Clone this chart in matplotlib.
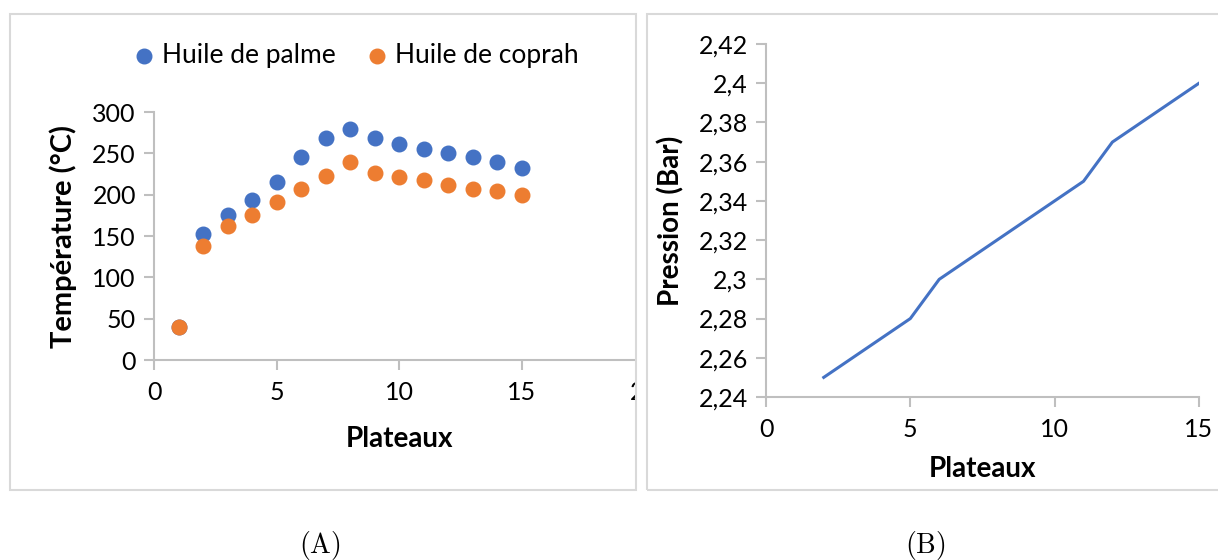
import numpy as np
import matplotlib.pyplot as plt
from matplotlib.patches import Rectangle
from matplotlib.ticker import FuncFormatter

plt.rcParams['font.family'] = ['Lato', 'DejaVu Sans']
plt.rcParams['mathtext.fontset'] = 'cm'

# data (A)
plateaux_a = [1, 2, 3, 4, 5, 6, 7, 8, 9, 10, 11, 12, 13, 14, 15]
palme = [40, 152, 176, 193, 215, 246, 269, 280, 268, 261, 255, 250, 246, 240, 232]
coprah = [40, 138, 162, 176, 191, 207, 222, 240, 226, 221, 218, 212, 207, 204, 199]

# data (B)
plateaux_b = [2, 3, 4, 5, 6, 7, 8, 9, 10, 11, 12, 13, 14, 15]
pression = [2.25, 2.26, 2.27, 2.28, 2.30, 2.31, 2.32, 2.33, 2.34, 2.35, 2.37, 2.38, 2.39, 2.40]

blue = "#4472C4"
orange = "#ED7D31"
gray = "#BFBFBF"
W, H = 1218, 560

fig = plt.figure(figsize=(12.18, 5.6), dpi=100)

def px(x0, y0, x1, y1):
    return [x0 / W, 1 - y1 / H, (x1 - x0) / W, (y1 - y0) / H]

def style(ax):
    for s in ["top", "right"]:
        ax.spines[s].set_visible(False)
    for s in ["left", "bottom"]:
        ax.spines[s].set_color(gray)
        ax.spines[s].set_linewidth(1.5)
    ax.tick_params(colors=gray, labelcolor="black", labelsize=18, length=7, width=1.5)
    ax.tick_params(axis="y", pad=6)
    ax.tick_params(axis="x", pad=8)

# panel A
ax1 = fig.add_axes(px(154, 112, 644, 360))
ax1.scatter(plateaux_a, palme, s=110, color=blue, label="Huile de palme", zorder=3)
ax1.scatter(plateaux_a, coprah, s=110, color=orange, label="Huile de coprah", zorder=3)
ax1.set_xlim(0, 20)
ax1.set_ylim(0, 300)
ax1.set_xticks([0, 5, 10, 15, 20])
ax1.set_yticks(range(0, 301, 50))
style(ax1)
ax1.set_xlabel("Plateaux", fontsize=20, fontweight="bold", labelpad=16)
ax1.set_ylabel("Température (°C)", fontsize=21, fontweight="bold", labelpad=11)
fig.legend(loc="center", bbox_to_anchor=(348 / W, 1 - 55 / H), ncol=2, frameon=False,
           fontsize=19, handletextpad=-0.3, columnspacing=0.55, markerscale=1.0)

# panel B
ax2 = fig.add_axes(px(766, 44, 1199, 397))
ax2.set_zorder(10)
ax2.plot(plateaux_b, pression, color=blue, linewidth=2.2)
ax2.set_xlim(0, 15)
ax2.set_ylim(2.24, 2.42)
ax2.set_xticks([0, 5, 10, 15])
ax2.set_yticks(np.arange(2.24, 2.4201, 0.02))
ax2.yaxis.set_major_formatter(FuncFormatter(lambda v, p: f"{v:g}".replace(".", ",")))
style(ax2)
ax2.set_xlabel("Plateaux", fontsize=20, fontweight="bold", labelpad=11)
ax2.set_ylabel("Pression (Bar)", fontsize=20, fontweight="bold", labelpad=10)

# frames round the panels (panel A is cut at its right edge)
fig.patches.append(Rectangle((637 / W, 0), 25 / W, 1, transform=fig.transFigure,
                             facecolor="white", edgecolor="none", zorder=5))
fig.patches.append(Rectangle((10 / W, 1 - 490 / H), 626 / W, 476 / H, transform=fig.transFigure,
                             facecolor="none", edgecolor="#D9D9D9", linewidth=1.5, zorder=6))
fig.patches.append(Rectangle((647 / W, 1 - 490 / H), 580 / W, 476 / H, transform=fig.transFigure,
                             facecolor="none", edgecolor="#D9D9D9", linewidth=1.5, zorder=6))

fig.text(320 / W, 1 - 545 / H, r"$\mathrm{(A)}$", ha="center", va="center", fontsize=20)
fig.text(925 / W, 1 - 545 / H, r"$\mathrm{(B)}$", ha="center", va="center", fontsize=20)

fig.savefig("out.png", dpi=100)
